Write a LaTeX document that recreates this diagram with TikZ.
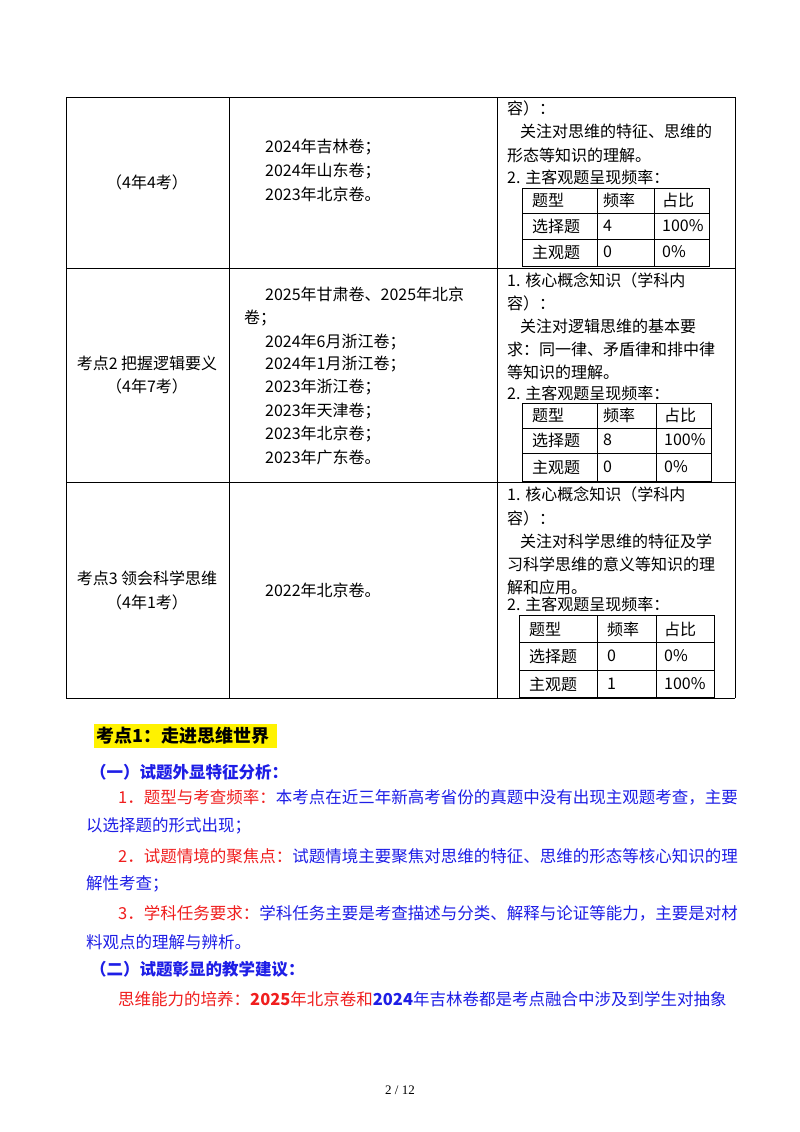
\documentclass[tikz,border=0pt]{standalone}
\usepackage{fontspec}
\setmainfont{Liberation Serif}
\newfontfamily\cjk{Noto Sans CJK SC}
\definecolor{bl}{RGB}{30,30,230}
\definecolor{rd}{RGB}{240,30,30}
\begin{document}
\begin{tikzpicture}[x=1pt,y=-1pt,
 tx/.style={anchor=west,inner sep=0,font=\cjk\fontsize{16}{16}\selectfont},
 tc/.style={anchor=center,inner sep=0,font=\cjk\fontsize{16}{16}\selectfont},
 bd/.style={anchor=west,inner sep=0,font=\cjk\fontsize{16.5}{16.5}\selectfont},
 ln/.style={line width=0.8pt}]
\useasboundingbox (0,0) rectangle (800,1132);
\fill[white] (0,0) rectangle (800,1132);
% main table
\draw[ln] (66,97) -- (735,97) (66,268) -- (735,268) (66,482) -- (735,482) (66,698) -- (735,698);
\draw[ln] (66,97) -- (66,698) (229,97) -- (229,698) (497,97) -- (497,698) (735,97) -- (735,698);
% row1
\node[tc] at (147,182) {（4年4考）};
\node[tx] at (265,147) {2024年吉林卷；};
\node[tx] at (265,171) {2024年山东卷；};
\node[tx] at (265,194) {2023年北京卷。};
\node[tx] at (507,108) {容）：};
\node[tx] at (520,131) {关注对思维的特征、思维的};
\node[tx] at (507,155) {形态等知识的理解。};
\node[tx] at (507,177) {2. 主客观题呈现频率：};
\draw[ln] (522,188) rectangle (709,266) (522,213) -- (709,213) (522,239) -- (709,239) (597,188) -- (597,266) (654,188) -- (654,266);
\node[tx] at (532,200) {题型}; \node[tx] at (603,200) {频率}; \node[tx] at (662,200) {占比};
\node[tx] at (532,226) {选择题}; \node[tx] at (603,226) {4}; \node[tx] at (662,226) {100\%};
\node[tx] at (532,252) {主观题}; \node[tx] at (603,252) {0}; \node[tx] at (662,252) {0\%};
% row2
\node[tc] at (147,363) {考点2 把握逻辑要义};
\node[tc] at (147,386) {（4年7考）};
\node[tx] at (265,294) {2025年甘肃卷、2025年北京};
\node[tx] at (244,318) {卷；};
\node[tx] at (265,342) {2024年6月浙江卷；};
\node[tx] at (265,364) {2024年1月浙江卷；};
\node[tx] at (265,387) {2023年浙江卷；};
\node[tx] at (265,411) {2023年天津卷；};
\node[tx] at (265,434) {2023年北京卷；};
\node[tx] at (265,457) {2023年广东卷。};
\node[tx] at (507,280) {1. 核心概念知识（学科内};
\node[tx] at (507,303) {容）：};
\node[tx] at (520,326) {关注对逻辑思维的基本要};
\node[tx] at (507,349) {求：同一律、矛盾律和排中律};
\node[tx] at (507,372) {等知识的理解。};
\node[tx] at (507,393) {2. 主客观题呈现频率：};
\draw[ln] (522,403) rectangle (711,481) (522,428) -- (711,428) (522,453) -- (711,453) (597,403) -- (597,481) (656,403) -- (656,481);
\node[tx] at (532,415) {题型}; \node[tx] at (603,415) {频率}; \node[tx] at (664,415) {占比};
\node[tx] at (532,440) {选择题}; \node[tx] at (603,440) {8}; \node[tx] at (664,440) {100\%};
\node[tx] at (532,467) {主观题}; \node[tx] at (603,467) {0}; \node[tx] at (664,467) {0\%};
% row3
\node[tc] at (147,578) {考点3 领会科学思维};
\node[tc] at (147,602) {（4年1考）};
\node[tx] at (265,590) {2022年北京卷。};
\node[tx] at (507,494) {1. 核心概念知识（学科内};
\node[tx] at (507,518) {容）：};
\node[tx] at (520,541) {关注对科学思维的特征及学};
\node[tx] at (507,564) {习科学思维的意义等知识的理};
\node[tx] at (507,587) {解和应用。};
\node[tx] at (507,604) {2. 主客观题呈现频率：};
\draw[ln] (519,615) rectangle (714,697) (519,642) -- (714,642) (519,670) -- (714,670) (597,615) -- (597,697) (656,615) -- (656,697);
\node[tx] at (529,629) {题型}; \node[tx] at (607,629) {频率}; \node[tx] at (664,629) {占比};
\node[tx] at (529,656) {选择题}; \node[tx] at (607,656) {0}; \node[tx] at (664,656) {0\%};
\node[tx] at (529,684) {主观题}; \node[tx] at (607,684) {1}; \node[tx] at (664,684) {100\%};
% bottom text
\fill[yellow] (94,724) rectangle (277,748);
\node[bd,font=\cjk\bfseries\fontsize{18}{18}\selectfont] at (96,736) {考点1：走进思维世界};
\node[bd,text=bl,font=\cjk\bfseries\fontsize{16.5}{16.5}\selectfont] at (90,772) {（一）试题外显特征分析：};
\node[bd] at (118,797) {\textcolor{rd}{1．题型与考查频率：}\textcolor{bl}{本考点在近三年新高考省份的真题中没有出现主观题考查，主要}};
\node[bd,text=bl] at (86,826) {以选择题的形式出现；};
\node[bd] at (118,856) {\textcolor{rd}{2．试题情境的聚焦点：}\textcolor{bl}{试题情境主要聚焦对思维的特征、思维的形态等核心知识的理}};
\node[bd,text=bl] at (86,884) {解性考查；};
\node[bd] at (118,913) {\textcolor{rd}{3．学科任务要求：}\textcolor{bl}{学科任务主要是考查描述与分类、解释与论证等能力，主要是对材}};
\node[bd,text=bl] at (86,942) {料观点的理解与辨析。};
\node[bd,text=bl,font=\cjk\bfseries\fontsize{16.5}{16.5}\selectfont] at (90,969) {（二）试题彰显的教学建议：};
\node[bd] at (118,999) {\textcolor{rd}{思维能力的培养：\textbf{2025}年北京卷和}\textcolor{bl}{\textbf{2024}年吉林卷都是考点融合中涉及到学生对抽象}};
\node[inner sep=0,font=\fontsize{13}{13}\selectfont] at (400,1090) {2 / 12};
\end{tikzpicture}
\end{document}
